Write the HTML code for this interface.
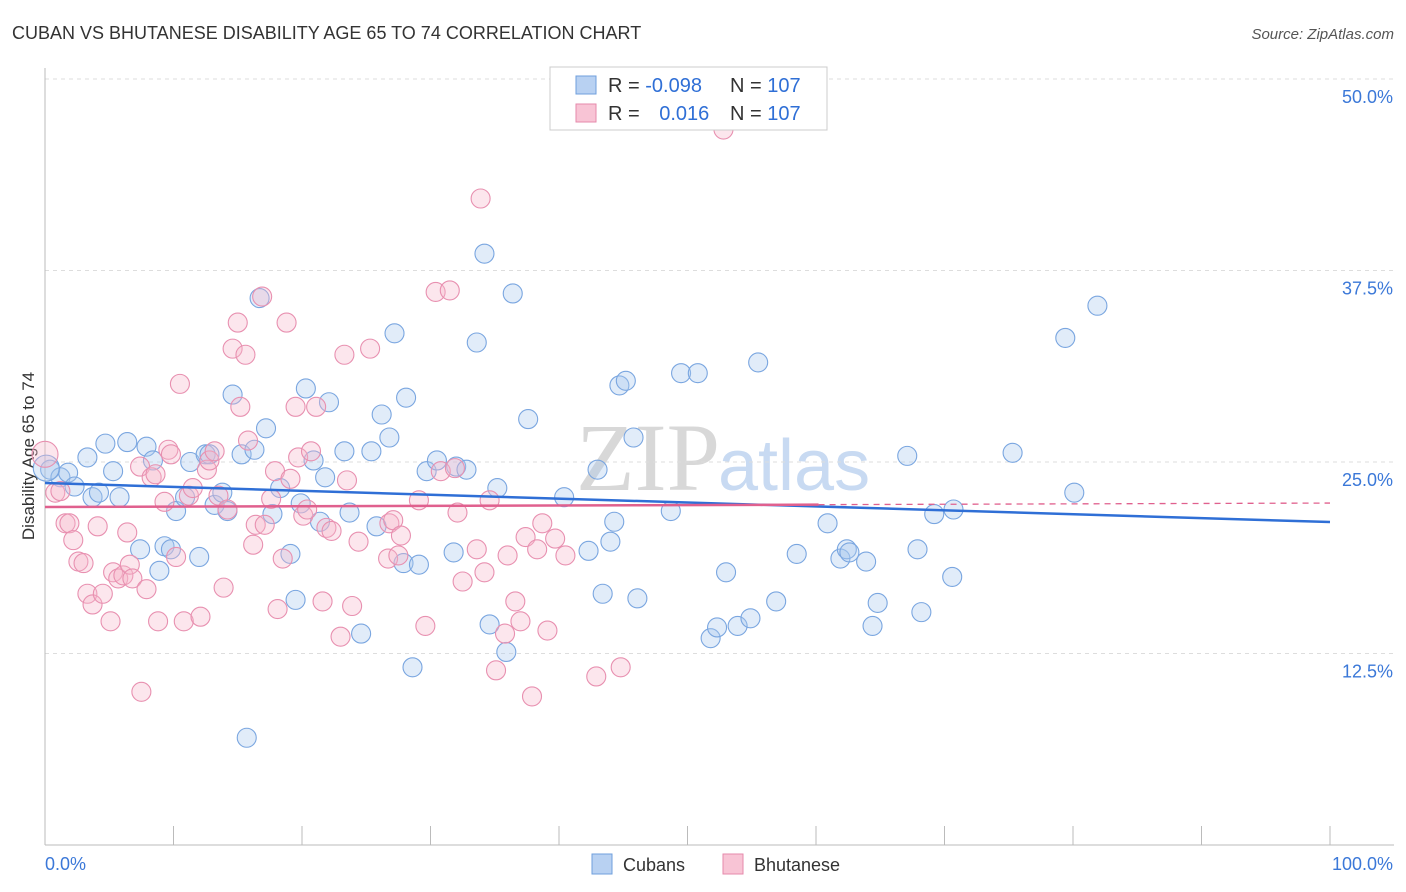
<!DOCTYPE html>
<html><head><meta charset="utf-8"><style>
body{margin:0;background:#fff;font-family:"Liberation Sans",sans-serif;}
#wrap{position:relative;width:1406px;height:892px;overflow:hidden;}
</style></head><body>
<div id="wrap">
<svg id="svg" width="1406" height="892" xmlns="http://www.w3.org/2000/svg">
<text x="12" y="39" font-size="18" fill="#333">CUBAN VS BHUTANESE DISABILITY AGE 65 TO 74 CORRELATION CHART</text>
<text x="1394" y="39" font-size="15" fill="#555" font-style="italic" text-anchor="end">Source: ZipAtlas.com</text>
<text x="34" y="456" font-size="17" fill="#333" text-anchor="middle" transform="rotate(-90 34 456)">Disability Age 65 to 74</text>
<text x="720" y="490" font-size="96" fill="#d8d8d8" text-anchor="end" font-family="Liberation Serif,serif">ZIP</text>
<text x="718" y="490" font-size="72" fill="#c8daf2">atlas</text>
<g id="grid"></g><g id="axes"></g><g id="pts"></g><g id="trend"></g>
<g>
<rect x="550" y="67" width="277" height="63" fill="#fff" stroke="#ccc"/>
<rect x="576" y="76" width="20" height="18" fill="#b8d1f2" stroke="#6f9fdc"/>
<rect x="576" y="104" width="20" height="18" fill="#f8c4d5" stroke="#e68aab"/>
<text x="608" y="92" font-size="20" fill="#333">R = <tspan fill="#2f6fd6">-0.098</tspan></text>
<text x="730" y="92" font-size="20" fill="#333">N = <tspan fill="#2f6fd6">107</tspan></text>
<text x="608" y="120" font-size="20" fill="#333">R = <tspan fill="#2f6fd6" dx="14">0.016</tspan></text>
<text x="730" y="120" font-size="20" fill="#333">N = <tspan fill="#2f6fd6">107</tspan></text>
</g>
<g>
<rect x="592" y="854" width="20" height="20" fill="#b8d1f2" stroke="#6f9fdc"/>
<text x="623" y="871" font-size="18" fill="#333">Cubans</text>
<rect x="723" y="854" width="20" height="20" fill="#f8c4d5" stroke="#e68aab"/>
<text x="754" y="871" font-size="18" fill="#333">Bhutanese</text>
</g>
</svg></div>
<script>
const yTicks=[12.5,25,37.5,50];
const yTickLabels=["12.5%","25.0%","37.5%","50.0%"];
const xTicks=[0,10,20,30,40,50,60,70,80,90,100];
const blueX=[0.4,1.2,1.8,2.3,3.3,3.7,4.2,4.7,5.3,5.8,6.4,7.4,7.9,8.4,8.9,9.3,9.8,10.2,10.9,11.3,12.0,12.5,12.8,13.2,13.8,14.2,14.6,15.3,15.7,16.3,16.7,17.2,17.7,18.3,19.1,19.5,19.9,20.3,20.9,21.4,21.8,22.1,23.3,23.7,24.6,25.4,25.8,26.2,26.8,27.2,27.9,28.1,28.6,29.1,29.7,30.5,31.8,32.0,32.8,33.6,34.2,34.6,35.2,35.9,36.4,37.6,40.4,42.3,43.0,43.4,44.0,44.3,44.7,45.2,45.8,46.1,48.7,49.5,50.8,51.8,52.3,53.0,53.9,54.9,55.5,56.9,58.5,60.9,61.9,62.4,62.6,63.9,64.4,64.8,67.1,67.9,68.2,69.2,70.6,70.7,75.3,79.4,80.1,81.9,0.1];
const blueY=[24.5,24.0,24.3,23.4,25.3,22.7,23.0,26.2,24.4,22.7,26.3,19.3,26.0,25.1,17.9,19.5,19.3,21.8,22.7,25.0,18.8,25.5,25.5,22.2,23.0,21.8,29.4,25.5,7.0,25.8,35.7,27.2,21.6,23.3,19.0,16.0,22.3,29.8,25.1,21.1,24.0,28.9,25.7,21.7,13.8,25.7,20.8,28.1,26.6,33.4,18.4,29.2,11.6,18.3,24.4,25.1,19.1,24.7,24.5,32.8,38.6,14.4,23.3,12.6,36.0,27.8,22.7,19.2,24.5,16.4,19.8,21.1,30.0,30.3,26.6,16.1,21.8,30.8,30.8,13.5,14.2,17.8,14.3,14.8,31.5,15.9,19.0,21.0,18.7,19.3,19.1,18.5,14.3,15.8,25.4,19.3,15.2,21.6,17.5,21.9,25.6,33.1,23.0,35.2,24.6];
const pinkX=[0,0.8,1.2,1.6,1.9,2.2,2.6,3.0,3.3,3.7,4.1,4.5,5.1,5.3,5.7,6.1,6.4,6.6,6.8,7.4,7.5,7.9,8.3,8.6,8.8,9.3,9.6,9.8,10.2,10.5,10.8,11.2,11.5,12.1,12.6,12.8,13.2,13.5,13.9,14.2,14.6,15.0,15.2,15.6,15.8,16.2,16.4,16.9,17.1,17.6,17.9,18.1,18.5,18.8,19.1,19.5,19.7,20.1,20.4,20.7,21.1,21.6,21.9,22.3,23.0,23.3,23.5,23.9,24.4,25.3,26.7,26.8,27.1,27.5,27.7,29.1,29.6,30.4,30.8,31.5,31.9,32.1,32.5,33.6,33.9,34.2,34.6,35.1,35.8,36.0,36.6,37.0,37.4,37.9,38.3,38.7,39.1,39.7,40.5,42.9,44.8,52.8];
const pinkY=[25.5,23.0,23.1,21.0,21.0,19.9,18.5,18.4,16.4,15.7,20.8,16.4,14.6,17.8,17.4,17.6,20.4,18.3,17.4,24.7,10.0,16.7,24.0,24.2,14.6,22.4,25.8,25.5,18.8,30.1,14.6,22.8,23.3,14.9,24.5,25.1,25.7,22.8,16.8,21.9,32.4,34.1,28.6,32.0,26.4,19.6,20.9,35.8,20.9,22.6,24.4,15.4,18.7,34.1,23.9,28.6,25.3,21.5,21.9,25.7,28.6,15.9,20.7,20.5,13.6,32.0,23.8,15.6,19.8,32.4,18.7,21.0,21.2,18.9,20.2,22.5,14.3,36.1,24.4,36.2,24.6,21.7,17.2,19.3,42.2,17.8,22.5,11.4,13.8,18.9,15.9,14.6,20.1,9.7,19.3,21.0,14.0,20.0,18.9,11.0,11.6,46.7];
const blueTrend=[23.63,21.08];
const pinkTrend=[22.06,22.32];
const pinkSolidEnd=60.2;

const X0=45,X1=1330,Y0=845,PPV=15.32;
const xs=v=>X0+v/100*(X1-X0);
const ys=v=>Y0-v*PPV;
const NS="http://www.w3.org/2000/svg";
function mk(tag,attrs,parent){const e=document.createElementNS(NS,tag);for(const k in attrs)e.setAttribute(k,attrs[k]);document.getElementById(parent).appendChild(e);return e;}
yTicks.forEach((t,i)=>{
  const g=mk('line',{x1:X0,x2:1394,y1:ys(t),y2:ys(t),stroke:'#ddd','stroke-dasharray':'4 4'},'grid');
  
  
  const l=mk('text',{x:1393,y:ys(t)+24,'font-size':18,fill:'#3b78d8','text-anchor':'end'},'grid');
  l.textContent=yTickLabels[i];
  
  
});
const topGrid=mk('line',{x1:X0,x2:1394,y1:79,y2:79,stroke:'#ddd','stroke-dasharray':'4 4'},'grid');


const ya=mk('line',{x1:X0,x2:X0,y1:68,y2:Y0,stroke:'#bbb'},'axes');


const xa=mk('line',{x1:X0,x2:1394,y1:Y0,y2:Y0,stroke:'#bbb'},'axes');


xTicks.forEach(t=>{
  const k=mk('line',{x1:xs(t),x2:xs(t),y1:826,y2:Y0,stroke:'#bbb'},'axes');
  
  
});
const xl0=mk('text',{x:45,y:870,'font-size':18,fill:'#3b78d8'},'axes');xl0.textContent='0.0%';


const xl1=mk('text',{x:1393,y:870,'font-size':18,fill:'#3b78d8','text-anchor':'end'},'axes');xl1.textContent='100.0%';


function pts(X,Y,fill,stroke,name){
  X.forEach((x,i)=>{
    const c=mk('circle',{cx:xs(x),cy:ys(Y[i]),r:(x<0.2?13:9.5),fill:fill,'fill-opacity':0.35,stroke:stroke,'stroke-width':1.1},'pts');
    
    
  });
}
pts(blueX,blueY,'#a9c8ef','#7aa6e0','cuban-point');
pts(pinkX,pinkY,'#f5b8cc','#e890b0','bhutanese-point');
const bt=mk('line',{x1:xs(0),y1:ys(blueTrend[0]),x2:xs(100),y2:ys(blueTrend[1]),stroke:'#2f6fd6','stroke-width':2.5},'trend');


const pm=pinkTrend[0]+(pinkTrend[1]-pinkTrend[0])*pinkSolidEnd/100;
const pt=mk('line',{x1:xs(0),y1:ys(pinkTrend[0]),x2:xs(pinkSolidEnd),y2:ys(pm),stroke:'#e0608e','stroke-width':2.5},'trend');


const pd=mk('line',{x1:xs(pinkSolidEnd),y1:ys(pm),x2:xs(100),y2:ys(pinkTrend[1]),stroke:'#e0608e','stroke-width':1.3,'stroke-dasharray':'6 5'},'trend');


</script>
</body></html>
